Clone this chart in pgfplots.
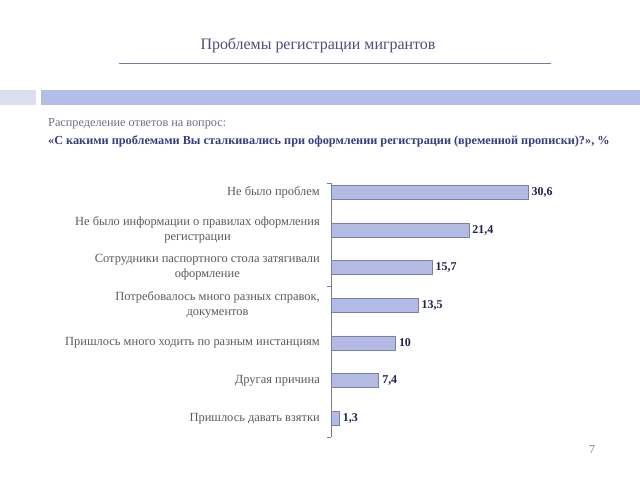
\documentclass[border=0pt]{standalone}
\usepackage{pgfplots}
\pgfplotsset{compat=1.18}
\usepackage{fontspec}
\setmainfont{Liberation Serif}
\definecolor{titlec}{HTML}{4D4D80}
\definecolor{linec}{HTML}{7A7AA6}
\definecolor{bandL}{HTML}{DCDFF0}
\definecolor{bandM}{HTML}{B4BDE6}
\definecolor{subg}{HTML}{707080}
\definecolor{subb}{HTML}{3A3A80}
\definecolor{barf}{HTML}{B3BBE5}
\definecolor{bard}{HTML}{7A80A8}
\definecolor{valc}{HTML}{202050}
\definecolor{labc}{HTML}{5C5C5C}
\begin{document}
\begin{tikzpicture}
\useasboundingbox[fill=white] (0,0) rectangle (640bp,-480bp);
% title
\node[text=titlec, font=\fontsize{16}{19}\selectfont] at (318bp,-45bp) {Проблемы регистрации мигрантов};
\draw[linec, line width=0.8bp] (119bp,-63bp) -- (551bp,-63bp);
% band
\fill[bandL] (0,-90bp) rectangle (36bp,-105bp);
\fill[bandM] (41bp,-90bp) rectangle (640bp,-105bp);
% subtitle
\node[anchor=west, inner sep=0, text=subg, font=\fontsize{12.3}{14}\selectfont] at (48bp,-124bp) {Распределение ответов на вопрос:};
\node[anchor=west, inner sep=0, text=subb, font=\fontsize{12.3}{14}\selectfont\bfseries] at (48bp,-141bp) {«С какими проблемами Вы сталкивались при оформлении регистрации (временной прописки)?», \%};
% page number
\node[text=gray, font=\fontsize{12}{14}\selectfont] at (592bp,-450bp) {7};
\begin{axis}[
  at={(331bp,-183bp)}, anchor=north west,
  scale only axis,
  width=257.6bp, height=254bp,
  xmin=0, xmax=40,
  ymin=-0.247, ymax=6.496,
  y dir=reverse,
  axis x line=none,
  axis y line*=left,
  y axis line style={draw=gray, line width=0.8bp},
  xbar, bar width=14bp,
  ytick={0,1,2,3,4,5,6},
  yticklabels={{Не было проблем},{Не было информации о правилах оформления\\регистрации},{Сотрудники паспортного стола затягивали\\оформление},{Потребовалось много разных справок,\\документов},{Пришлось много ходить по разным инстанциям},{Другая причина},{Пришлось давать взятки}},
  major tick length=0pt,
  yticklabel style={align=center, anchor=east, inner sep=0pt, xshift=-11bp, text=labc, font=\fontsize{12.5}{15}\selectfont},
  extra y ticks={-0.247,2.5,6.496},
  extra y tick labels={},
  extra y tick style={major tick length=4bp, tick align=outside, tick style={draw=gray, line width=0.8bp}},
  nodes near coords,
  nodes near coords style={text=valc, font=\fontsize{12}{14}\selectfont\bfseries, /pgf/number format/assume math mode=true, /pgf/number format/use comma},
  clip=false,
]
\addplot[fill=barf, draw=bard, line width=0.6bp] coordinates {
(30.6,0) (21.4,1) (15.7,2) (13.5,3) (10,4) (7.4,5) (1.3,6)
};
\end{axis}
\end{tikzpicture}
\end{document}
